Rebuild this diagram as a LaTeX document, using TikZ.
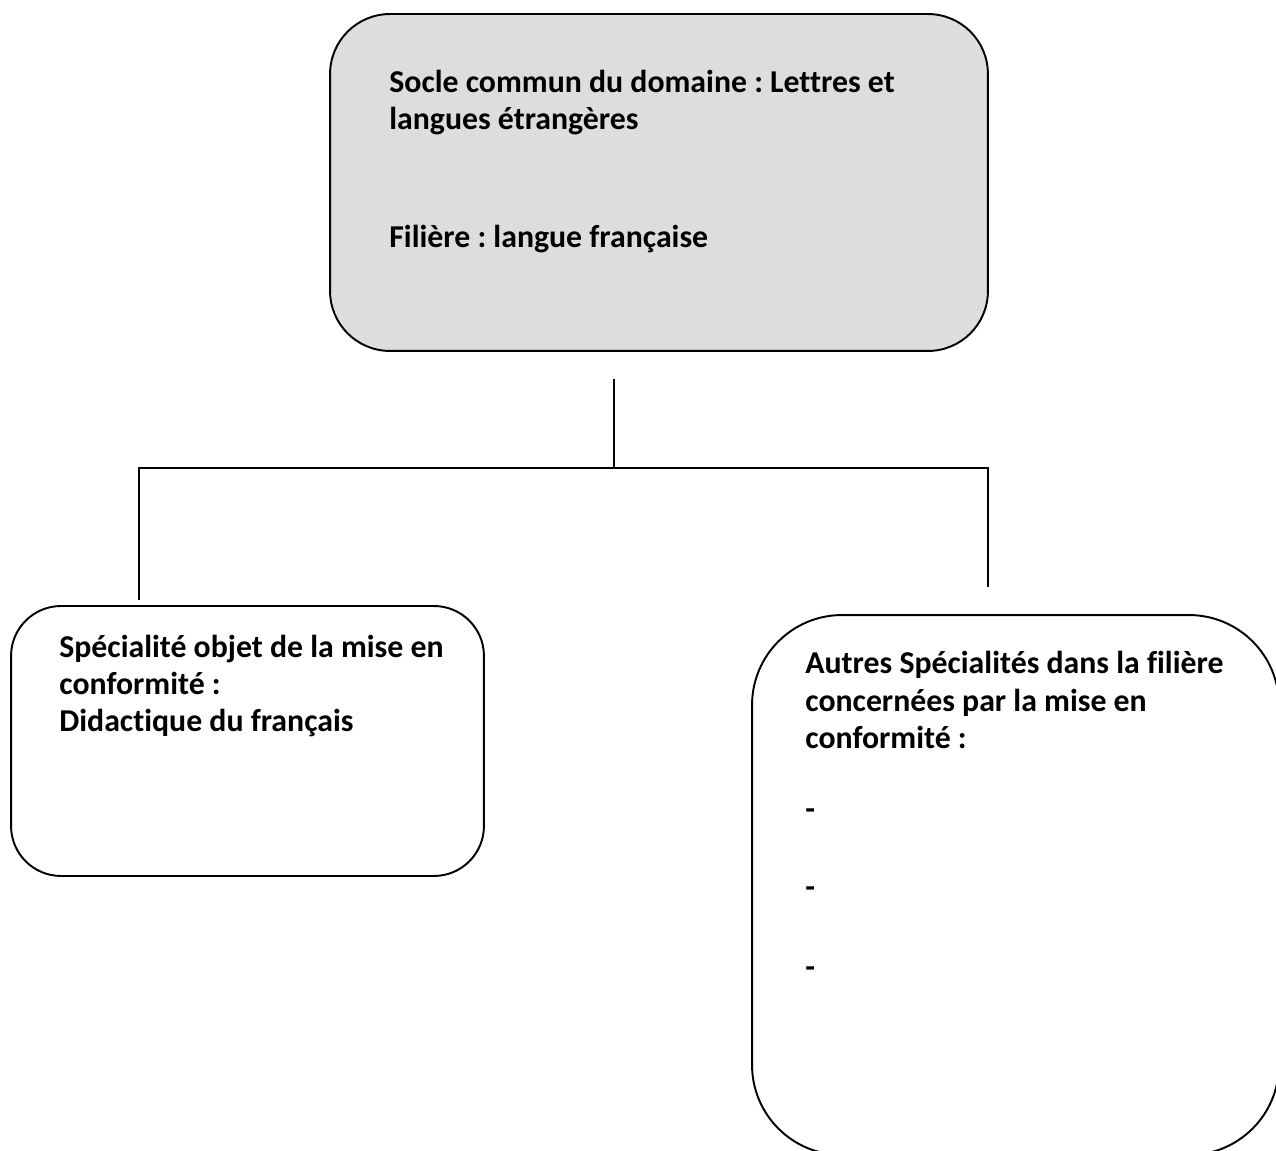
\documentclass[tikz,border=0pt]{standalone}
\usepackage{fontspec}
\setmainfont{Carlito}[Ligatures=NoCommon]
\usetikzlibrary{calc}
\definecolor{soclegray}{RGB}{221,221,221}
\frenchspacing

\begin{document}
\begin{tikzpicture}[x=0.02cm,y=-0.02cm,
    box/.style={draw,rounded corners=#1,line width=1.1pt,inner sep=0pt},
    boxtext/.style={anchor=base west,align=left,inner sep=0pt,
      font=\fontsize{18.1}{21.3}\selectfont\bfseries},
    link/.style={line width=1.1pt}]
    \useasboundingbox (0,0) rectangle (1276,1151);

    % Boxes
    \node[box=1.2cm,fill=soclegray,minimum width=13.16cm,minimum height=6.74cm] (socle) at (659,182.5) {};
    \node[box=1cm,minimum width=9.46cm,minimum height=5.4cm] (didact) at (247.5,741) {};
    \node[box=1.8cm,minimum width=10.54cm,minimum height=10.8cm] (autres) at (1015.5,885) {};

    % Texts (anchored on the baseline of their last line)
    \node[boxtext] (socletxt) at (389,248) {Socle commun du domaine : Lettres et\\langues étrangères\\[1.62cm]Filière : langue française};
    \node[boxtext] (didacttxt) at (59,732) {Spécialité objet de la mise en\\conformité :\\Didactique du français};
    \node[boxtext] (autrestxt) at (805,978) {Autres Spécialités dans la filière\\concernées par la mise en\\conformité :\\[0.66cm]-\\[0.82cm]-\\[0.86cm]-};

    % Connectors
    \coordinate (stem) at (614,379);
    \coordinate (fork) at (614,468);
    \coordinate (forkl) at (139,468);
    \coordinate (forkr) at (988,468);
    \coordinate (dropl) at (139,600);
    \coordinate (dropr) at (988,587);
    \draw[link] (stem) -- (fork);
    \draw[link] (dropl) -- (forkl) -- (forkr) -- (dropr);
\end{tikzpicture}
\end{document}
